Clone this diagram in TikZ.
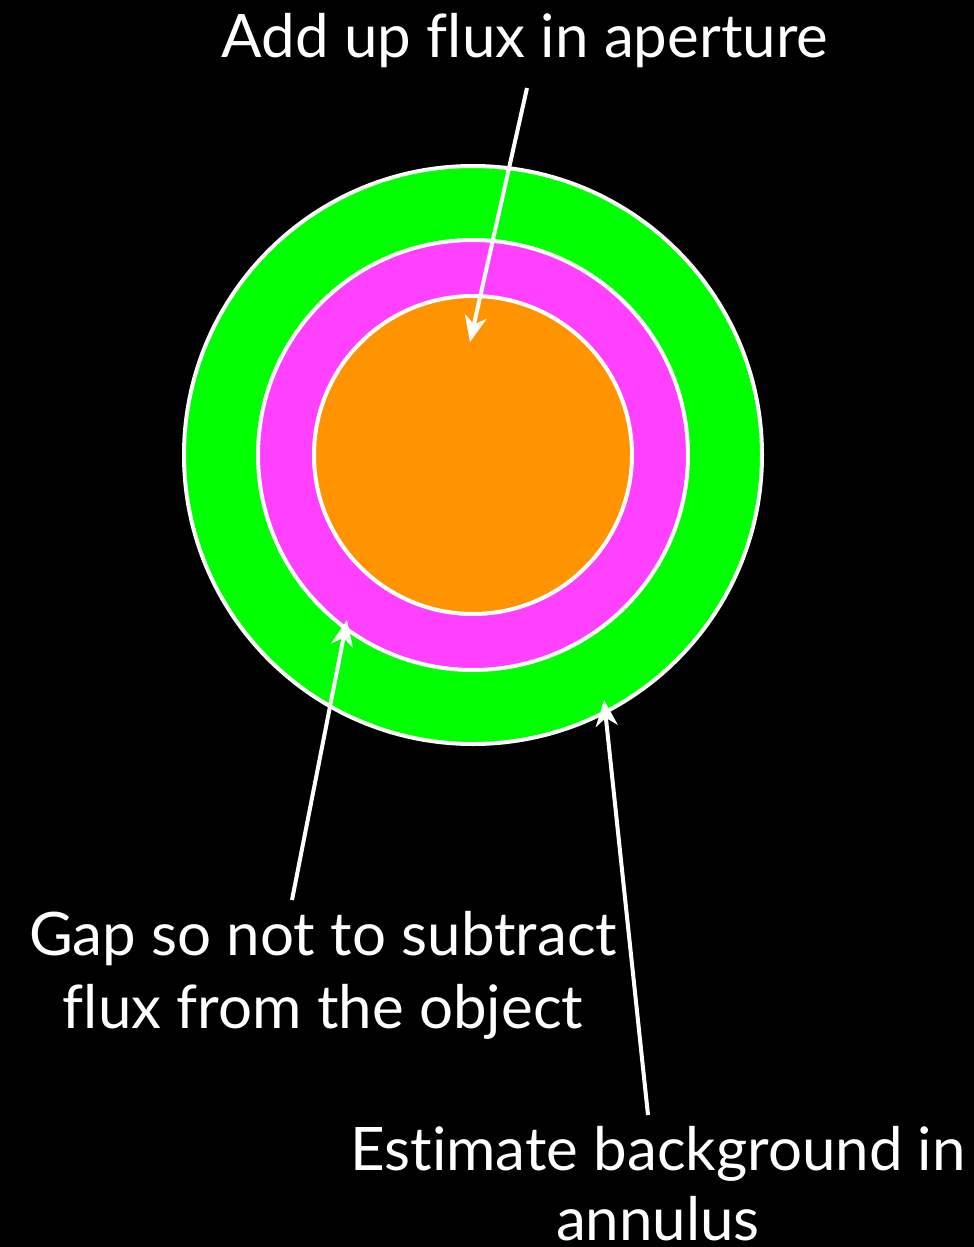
\documentclass[tikz,border=0pt]{standalone}
\usepackage{fontspec}
\setmainfont[Ligatures=NoCommon]{Lato}
\usetikzlibrary{arrows.meta}
\definecolor{ringgreen}{RGB}{0,255,0}
\definecolor{ringmag}{RGB}{255,64,255}
\definecolor{apor}{RGB}{255,148,0}
\begin{document}
\begin{tikzpicture}[x=1pt,y=-1pt,
  ring/.style={circle,draw=white,line width=4pt,inner sep=0pt},
  lbl/.style={text=white,font=\fontsize{60}{72}\selectfont,inner sep=0pt,anchor=base},
  ptr/.style={draw=white,line width=4pt,-{Stealth[length=26pt,width=22pt,inset=8pt]}}]
\fill[black] (0,0) rectangle (974,1247);
\useasboundingbox (0,0) rectangle (974,1247);
\node[ring,fill=ringgreen,minimum size=578pt] (outer) at (473,455) {};
\node[ring,fill=ringmag,minimum size=430pt] (gap) at (473,455) {};
\node[ring,fill=apor,minimum size=318pt] (ap) at (473,455) {};
\node[lbl] (t1) at (525,58) {Add up flux in aperture};
\node[lbl] (t2a) at (323,955) {Gap so not to subtract};
\node[lbl] (t2b) at (323,1028) {flux from the object};
\node[lbl] (t3a) at (658,1170) {Estimate background in};
\node[lbl] (t3b) at (658,1240) {annulus};
\coordinate (s1) at (527,88);
\coordinate (e1) at (470,342);
\coordinate (s2) at (292,900);
\coordinate (e2) at (347,620);
\coordinate (s3) at (648,1115);
\coordinate (e3) at (604,700);
\draw[ptr] (s1) -- (e1);
\draw[ptr] (s2) -- (e2);
\draw[ptr] (s3) -- (e3);
\end{tikzpicture}
\end{document}
